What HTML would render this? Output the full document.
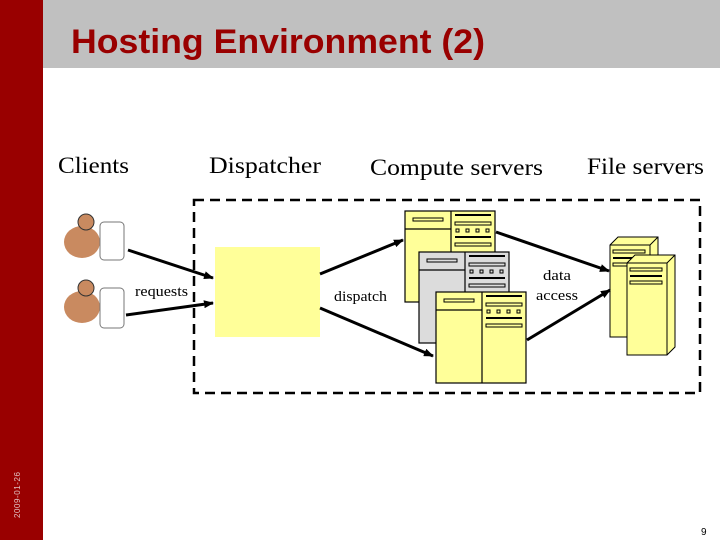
<!DOCTYPE html>
<html><head><meta charset="utf-8"><style>
html,body{margin:0;padding:0;background:#fff;}
svg{display:block;}
</style></head><body>
<svg width="720" height="540" viewBox="0 0 720 540" xmlns="http://www.w3.org/2000/svg">
<defs>
<marker id="ah" markerWidth="10" markerHeight="8" refX="9" refY="4" orient="auto" markerUnits="userSpaceOnUse">
<path d="M0,0 L10,4 L0,8 Z" fill="#000"/>
</marker>
<g id="srv">
<rect x="0" y="0" width="90" height="91" stroke="#000" stroke-width="1.2"/>
<line x1="46" y1="0" x2="46" y2="91" stroke="#000" stroke-width="1.2"/>
<line x1="0" y1="18" x2="46" y2="18" stroke="#000" stroke-width="1.2"/>
<rect x="8" y="7" width="30" height="3" fill="none" stroke="#000"/>
<line x1="50" y1="4" x2="86" y2="4" stroke="#000" stroke-width="2"/>
<rect x="50" y="11" width="36" height="3" fill="none" stroke="#000"/>
<rect x="51" y="18" width="3" height="3" fill="none" stroke="#000"/>
<rect x="61" y="18" width="3" height="3" fill="none" stroke="#000"/>
<rect x="71" y="18" width="3" height="3" fill="none" stroke="#000"/>
<rect x="81" y="18" width="3" height="3" fill="none" stroke="#000"/>
<line x1="50" y1="26" x2="86" y2="26" stroke="#000" stroke-width="2"/>
<rect x="50" y="32" width="36" height="3" fill="none" stroke="#000"/>
</g>
<g id="fs">
<path d="M0,8 L8,0 L48,0 L48,92 L40,100 L0,100 Z" stroke="#000" stroke-width="1"/>
<path d="M0,8 L40,8 L48,0 M40,8 L40,100" fill="none" stroke="#000"/>
<rect x="3" y="13" width="32" height="3" fill="none" stroke="#000"/>
<line x1="3" y1="21" x2="35" y2="21" stroke="#000" stroke-width="2"/>
<rect x="3" y="26" width="32" height="3" fill="none" stroke="#000"/>
</g>
</defs>
<rect x="0" y="0" width="43" height="540" fill="#990000"/>
<rect x="43" y="0" width="677" height="68" fill="#c0c0c0"/>
<text x="71" y="53" font-family="Liberation Sans, sans-serif" font-weight="bold" font-size="34" fill="#990000" textLength="414" lengthAdjust="spacingAndGlyphs">Hosting Environment (2)</text>
<text transform="translate(20,518) rotate(-90)" font-family="Liberation Sans, sans-serif" font-size="8" fill="#e0c0c0" textLength="46">2009-01-26</text>
<text x="701" y="535" font-family="Liberation Sans, sans-serif" font-size="10" fill="#000">9</text>

<g font-family="Liberation Serif, serif" font-size="23" fill="#000" lengthAdjust="spacingAndGlyphs">
<text x="58" y="173" textLength="71" lengthAdjust="spacingAndGlyphs">Clients</text>
<text x="209" y="173" textLength="112" lengthAdjust="spacingAndGlyphs">Dispatcher</text>
<text x="370" y="175" textLength="173" lengthAdjust="spacingAndGlyphs">Compute servers</text>
<text x="587" y="174" textLength="117" lengthAdjust="spacingAndGlyphs">File servers</text>
</g>
<g font-family="Liberation Serif, serif" font-size="15" fill="#000">
<text x="135" y="296" textLength="53" lengthAdjust="spacingAndGlyphs">requests</text>
<text x="334" y="301" textLength="53" lengthAdjust="spacingAndGlyphs">dispatch</text>
<text x="543" y="280" textLength="28" lengthAdjust="spacingAndGlyphs">data</text>
<text x="536" y="300" textLength="42" lengthAdjust="spacingAndGlyphs">access</text>
</g>

<rect x="194" y="200" width="506" height="193" fill="none" stroke="#000" stroke-width="2.5" stroke-dasharray="10,6"/>
<rect x="215" y="247" width="105" height="90" fill="#ffff99"/>

<g>
<ellipse cx="82" cy="242" rx="18" ry="16" fill="#c98a60"/>
<circle cx="86" cy="222" r="8" fill="#c98a60" stroke="#333"/>
<rect x="100" y="222" width="24" height="38" rx="4" fill="#fff" stroke="#777"/>
<ellipse cx="82" cy="307" rx="18" ry="16" fill="#c98a60"/>
<circle cx="86" cy="288" r="8" fill="#c98a60" stroke="#333"/>
<rect x="100" y="288" width="24" height="40" rx="4" fill="#fff" stroke="#777"/>
</g>

<use href="#srv" x="405" y="211" fill="#ffff99"/>
<use href="#srv" x="419" y="252" fill="#dcdcdc"/>
<use href="#srv" x="436" y="292" fill="#ffff99"/>
<use href="#fs" x="610" y="237" fill="#ffff99"/>
<use href="#fs" x="627" y="255" fill="#ffff99"/>

<g stroke="#000" stroke-width="3" marker-end="url(#ah)">
<line x1="128" y1="250" x2="213" y2="278"/>
<line x1="126" y1="315" x2="213" y2="303"/>
<line x1="320" y1="274" x2="403" y2="240"/>
<line x1="320" y1="308" x2="433" y2="356"/>
<line x1="496" y1="232" x2="609" y2="271"/>
<line x1="527" y1="340" x2="610" y2="290"/>
</g>
</svg>
</body></html>
